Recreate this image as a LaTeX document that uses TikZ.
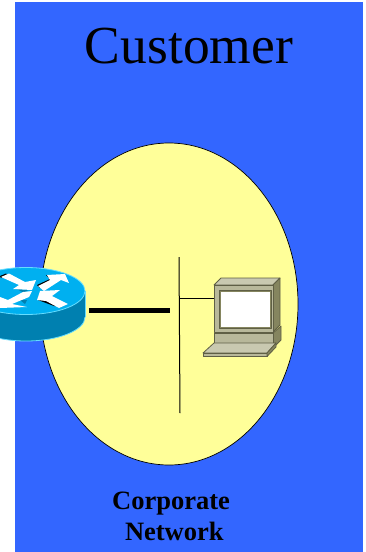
\documentclass[tikz,border=0pt]{standalone}
\usepackage{fontspec}
\usetikzlibrary{shapes.geometric}
\setmainfont{Liberation Serif}
\tikzset{
  x=1pt,y=-1pt,
  arrowfill/.style={fill=white,draw=none},
  shadowfill/.style={fill=black,draw=none},
  softshadow/.style={fill=rside,draw=none},
  pc/.style={draw=pcedge,line width=0.8pt,line join=round},
  wire/.style={draw=black,line width=1pt},
}
\definecolor{bluebg}{HTML}{3366FF}
\definecolor{ovalc}{HTML}{FFFF99}
\definecolor{rtop}{HTML}{00B0F0}
\definecolor{rside}{HTML}{0080B0}
\definecolor{rline}{HTML}{66DDFF}
\definecolor{pcedge}{HTML}{5F5F45}
\definecolor{pcface}{HTML}{B8B89A}
\definecolor{pclight}{HTML}{C9C9B0}
\definecolor{pcdark}{HTML}{85855F}
\begin{document}
\begin{tikzpicture}
\useasboundingbox (0,0) rectangle (365,552);
\fill[white] (0,0) rectangle (365,552);
\fill[bluebg] (15,2) rectangle (363,552);
\node[font=\fontsize{53.5}{60}\selectfont,anchor=center] (title) at (189,46.5) {Customer};
\node[draw=black,fill=ovalc,ellipse,minimum width=258pt,minimum height=322pt,inner sep=0pt,line width=0.7pt] (oval) at (169,304) {};
% router
\fill[rside,draw=rline,line width=0.8pt] (26,317) ellipse[x radius=59,y radius=24];
\fill[rside] (-33,291) rectangle (85,317);
\draw[rline,line width=0.8pt] (85,291) -- (85,317);
\fill[rtop,draw=rline,line width=0.8pt] (26,291) ellipse[x radius=59,y radius=23.5];
\fill[shadowfill] (0,276) -- (6,273.5) -- (8,275) -- (1,278) -- cycle;
\fill[shadowfill] (37,285) -- (50,279) -- (46,275) -- (56,277) -- (52,281) -- (40,288) -- cycle;
\fill[shadowfill] (38,296) -- (57,306) -- (54,306) -- (38,300) -- cycle;
\fill[softshadow] (17,289) -- (28,290) -- (24,293) -- cycle;
\fill[softshadow] (20,300) -- (27,300) -- (25,304) -- cycle;
\fill[arrowfill] (1,277) -- (9,273.5) -- (25,282) -- (36,280) -- (32,290) -- (13,289) -- (19,285) -- cycle;
\fill[arrowfill] (38,286) -- (50,280) -- (47,275) -- (65,274) -- (69,283) -- (61,280) -- (44,291) -- cycle;
\fill[arrowfill] (32,291) -- (29,297) -- (12,304) -- (27,307) -- (0,308) -- (0,297) -- (8,300) -- (23,292) -- cycle;
\fill[arrowfill] (37,300) -- (40,291) -- (60,290) -- (52,296) -- (68,304) -- (59,308) -- (46,301) -- cycle;
% thick link
\coordinate (la) at (89,310); \coordinate (lb) at (170,310);
\draw[line width=5pt] (la) -- (lb);
% bus
\coordinate (ba) at (179,257); \coordinate (bb) at (180,413);
\coordinate (bj) at (179,298); \coordinate (pcl) at (214,298);
\draw[wire] (ba) -- (bb);
\draw[wire] (bj) -- (pcl);
% computer
\fill[pclight,pc] (214,285) -- (221,278) -- (280,278) -- (273,285) -- cycle;
\fill[pcdark,pc] (273,285) -- (280,278) -- (280,325) -- (273,332) -- cycle;
\fill[pcdark,pc] (273,333) -- (281,326) -- (281,340) -- (273,348) -- cycle;
\fill[pcface,pc] (214,333) rectangle (273,343);
\fill[pcface,pc] (214,285) rectangle (273,332);
\fill[pcdark,pc] (219,290) rectangle (271,328);
\fill[white] (220.5,291.5) rectangle (270,327);
\fill[pclight,pc] (214,343) -- (276,343) -- (267,353) -- (203,353) -- cycle;
\fill[pcface,pc] (203,353) rectangle (267,356.5);
\fill[pcdark,pc] (267,353) -- (276,343) -- (276,347) -- (267,356.5) -- cycle;
% label
\node[font=\bfseries\fontsize{26.5}{31}\selectfont,align=center,anchor=center] (lbl) at (171,516) {Corporate\\ \ Network};
\end{tikzpicture}
\end{document}
